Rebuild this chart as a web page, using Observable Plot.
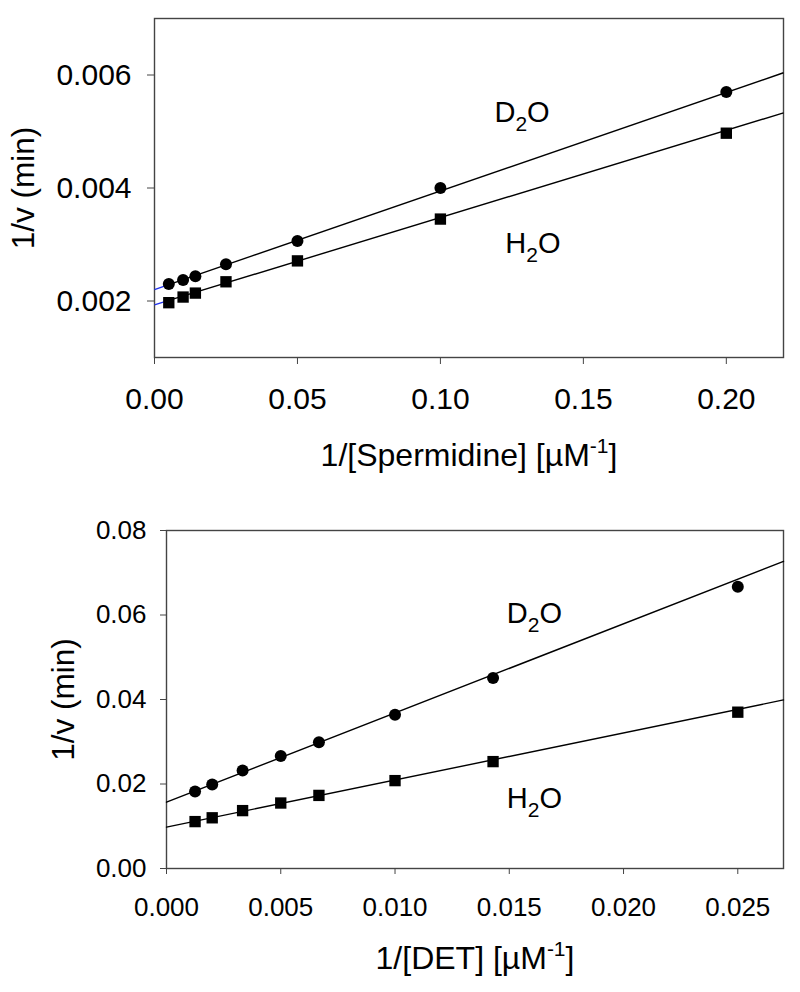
<!DOCTYPE html>
<html><head><meta charset="utf-8">
<script src="https://cdn.jsdelivr.net/npm/d3@7"></script>
<script src="https://cdn.jsdelivr.net/npm/@observablehq/plot@0.6"></script>
<style>
body{margin:0;background:#fff;}
#chart svg{display:block;}
</style>
</head><body><div id="chart"></div>
<script>
// ---- Top panel: 1/[Spermidine] ----
const spdX    = [0.005, 0.010, 0.0143, 0.025, 0.050, 0.100, 0.200];
const spdD2O  = [0.00230, 0.00237, 0.00244, 0.00265, 0.00306, 0.00400, 0.00570];
const spdH2O  = [0.00197, 0.00207, 0.00214, 0.00234, 0.00271, 0.00345, 0.00497];
const spdLineX   = [0, 0.005, 0.22];
const spdLineD2O = [0.00220, 0.00229, 0.00604];
const spdLineH2O = [0.00193, 0.00201, 0.00533];
const spdXTicks = [0, 0.05, 0.10, 0.15, 0.20];
const spdYTicks = [0.002, 0.004, 0.006];
const spdLabels = [{x: 0.1189, y: 0.00517, t: "D_{2}O"}, {x: 0.1227, y: 0.002855, t: "H_{2}O"}];

// ---- Bottom panel: 1/[DET] ----
const detX    = [0.00125, 0.002, 0.00333, 0.005, 0.00667, 0.010, 0.01429, 0.025];
const detD2O  = [0.0182, 0.0199, 0.0232, 0.0266, 0.0299, 0.0364, 0.0451, 0.0667];
const detH2O  = [0.0111, 0.0120, 0.0137, 0.0155, 0.0173, 0.0208, 0.0253, 0.0370];
const detLineX   = [0, 0.027];
const detLineD2O = [0.0157, 0.0727];
const detLineH2O = [0.0098, 0.0399];
const detXTicks = [0, 0.005, 0.010, 0.015, 0.020, 0.025];
const detYTicks = [0, 0.02, 0.04, 0.06, 0.08];
const detLabels = [{x: 0.01489, y: 0.05806, t: "D_{2}O"}, {x: 0.01489, y: 0.01427, t: "H_{2}O"}];

const FONT = "Liberation Sans, Arial, Helvetica, sans-serif";
const AX = "#444";

function pts(xs, ys) { return xs.map((x, i) => ({x, y: ys[i]})); }
function segs(xs, ys, colors) {
  const out = [];
  for (let i = 0; i < xs.length - 1; i++) out.push({x1: xs[i], y1: ys[i], x2: xs[i+1], y2: ys[i+1], c: colors[i]});
  return out;
}

function richText(svg, subSize, subShift, supSize, supShift) {
  d3.select(svg).selectAll("text").each(function() {
    const t = this.textContent;
    if (!/[_^]\{/.test(t)) return;
    const parts = t.split(/(_\{[^}]*\}|\^\{[^}]*\})/).filter(s => s.length);
    this.textContent = "";
    let shift = 0;
    for (const p of parts) {
      const ts = d3.select(this).append("tspan");
      if (p.startsWith("_{")) {
        ts.text(p.slice(2, -1)).attr("font-size", subSize).attr("dy", subShift - shift);
        shift = subShift;
      } else if (p.startsWith("^{")) {
        ts.text(p.slice(2, -1)).attr("font-size", supSize).attr("dy", -supShift - shift);
        shift = -supShift;
      } else {
        ts.text(p).attr("dy", -shift);
        shift = 0;
      }
    }
  });
}

const topPlot = Plot.plot({
  width: 800, height: 480,
  marginLeft: 154, marginRight: 17, marginTop: 18, marginBottom: 123,
  style: {fontFamily: FONT, fontSize: "30px", background: "#fff", color: "#000"},
  x: {domain: [0, 0.22]},
  y: {domain: [0.001, 0.007]},
  marks: [
    Plot.frame({stroke: AX, strokeWidth: 1.4}),
    Plot.axisX({ticks: spdXTicks, tickFormat: d3.format(".2f"), tickSize: 7, tickPadding: 23, fontSize: 30, stroke: AX, fill: "#000", label: null}),
    Plot.axisY({ticks: spdYTicks, tickFormat: d3.format(".3f"), tickSize: 7, tickPadding: 16, fontSize: 30, stroke: AX, fill: "#000", label: null}),
    Plot.link(segs(spdLineX, spdLineD2O, ["#2233ee", "#000"]), {x1: "x1", y1: "y1", x2: "x2", y2: "y2", stroke: "c", strokeWidth: 1.4}),
    Plot.link(segs(spdLineX, spdLineH2O, ["#2233ee", "#000"]), {x1: "x1", y1: "y1", x2: "x2", y2: "y2", stroke: "c", strokeWidth: 1.4}),
    Plot.dot(pts(spdX, spdD2O), {x: "x", y: "y", r: 6, fill: "#000", symbol: "circle"}),
    Plot.dot(pts(spdX, spdH2O), {x: "x", y: "y", r: 6.4, fill: "#000", symbol: "square"}),
    Plot.text(spdLabels, {x: "x", y: "y", text: "t", textAnchor: "start", lineAnchor: "bottom", fontSize: 29, fill: "#000"}),
    Plot.text(["1/[Spermidine] [µM^{-1}]"], {frameAnchor: "bottom", textAnchor: "middle", dy: 108, lineAnchor: "bottom", fontSize: 32, fill: "#000", style: "letter-spacing:1.1px"}),
    Plot.text(["1/v (min)"], {frameAnchor: "left", textAnchor: "middle", dx: -121, rotate: -90, lineAnchor: "bottom", fontSize: 31.5, fill: "#000"})
  ]
});
richText(topPlot, 21, 9, 21, 13);

const botPlot = Plot.plot({
  width: 800, height: 512,
  marginLeft: 166, marginRight: 17, marginTop: 50, marginBottom: 124,
  style: {fontFamily: FONT, fontSize: "26px", background: "#fff", color: "#000"},
  x: {domain: [0, 0.027]},
  y: {domain: [0, 0.08]},
  marks: [
    Plot.frame({stroke: AX, strokeWidth: 1.4}),
    Plot.axisX({ticks: detXTicks, tickFormat: d3.format(".3f"), tickSize: 6, tickPadding: 23, fontSize: 26, stroke: AX, fill: "#000", label: null}),
    Plot.axisY({ticks: detYTicks, tickFormat: d3.format(".2f"), tickSize: 6, tickPadding: 14, fontSize: 26, stroke: AX, fill: "#000", label: null}),
    Plot.line(pts(detLineX, detLineD2O), {x: "x", y: "y", stroke: "#000", strokeWidth: 1.4}),
    Plot.line(pts(detLineX, detLineH2O), {x: "x", y: "y", stroke: "#000", strokeWidth: 1.4}),
    Plot.dot(pts(detX, detD2O), {x: "x", y: "y", r: 6, fill: "#000", symbol: "circle"}),
    Plot.dot(pts(detX, detH2O), {x: "x", y: "y", r: 6.4, fill: "#000", symbol: "square"}),
    Plot.text(detLabels, {x: "x", y: "y", text: "t", textAnchor: "start", lineAnchor: "bottom", fontSize: 29, fill: "#000"}),
    Plot.text(["1/[DET] [µM^{-1}]"], {frameAnchor: "bottom", textAnchor: "middle", dy: 100, lineAnchor: "bottom", fontSize: 32, fill: "#000", style: "letter-spacing:1.1px"}),
    Plot.text(["1/v (min)"], {frameAnchor: "left", textAnchor: "middle", dx: -93, rotate: -90, lineAnchor: "bottom", fontSize: 31.5, fill: "#000"})
  ]
});
richText(botPlot, 21, 9, 21, 13);

document.getElementById("chart").append(topPlot, botPlot);
</script>
</body></html>
